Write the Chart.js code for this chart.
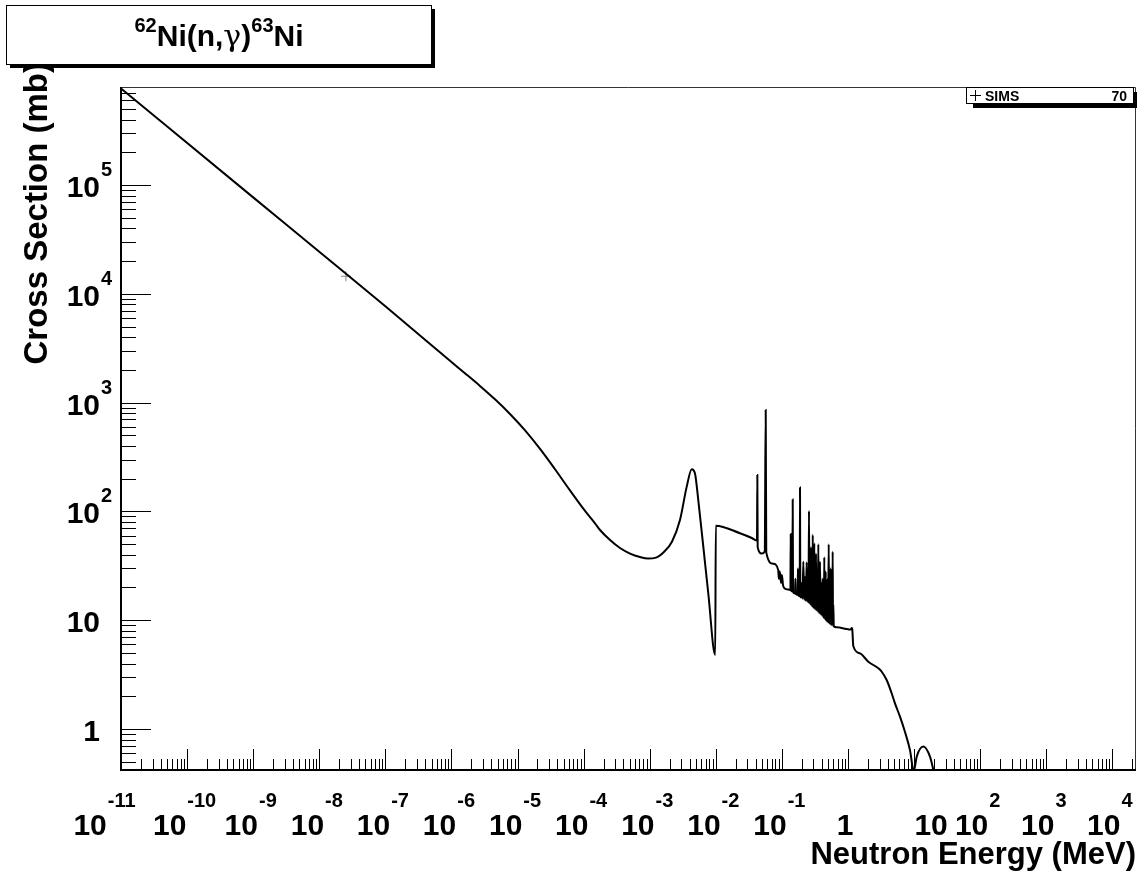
<!DOCTYPE html>
<html>
<head>
<meta charset="utf-8">
<script src="https://cdn.jsdelivr.net/npm/chart.js@4.4.1/dist/chart.umd.min.js"></script>
<style>
  html, body { margin: 0; padding: 0; background: #ffffff; }
  canvas { display: block; }
</style>
</head>
<body>
<canvas id="c" width="1144" height="872"></canvas>
<script>
// 62Ni(n,gamma)63Ni evaluated capture cross section, energies in MeV, cross sections in mb.

// Smooth part: 1/v region and the 4.6 keV s-wave resonance
const lowEnergy = [1e-11, 1e-9, 1e-8, 1e-7, 9.5e-7, 1.60e-6, 2.70e-6, 4.56e-6, 7.69e-6, 1.30e-5,
  2.19e-5, 3.69e-5, 6.22e-5, 1.05e-4, 1.486e-4, 1.77e-4, 2.51e-4, 3.55e-4, 5.04e-4, 7.13e-4,
  9.42e-4, 1.245e-3, 1.64e-3, 2.17e-3, 2.87e-3, 3.63e-3, 4.32e-3, 4.84e-3, 5.43e-3, 6.47e-3,
  7.69e-3, 9.8e-3];
const lowXs = [7.7e5, 7.7e4, 2.44e4, 7.7e3, 2.42e3, 1862, 1424, 1072, 786, 555,
  375, 244, 156, 101, 77.8, 67.5, 54.6, 46.1, 41.0, 38.1,
  36.9, 37.6, 42.4, 52.7, 83.4, 169, 244, 223, 127, 47.4,
  17.7, 4.8];

// Resolved resonances above 10 keV
const resEnergy = [1.0e-2, 2.32e-2, 3.5e-2, 4.2e-2, 4.25e-2, 4.3e-2, 4.94e-2, 5.5e-2, 5.69e-2, 5.8e-2,
  7.41e-2, 8.8e-2, 9.0e-2, 9.3e-2, 9.7e-2, 0.100, 0.104, 0.109, 0.133, 0.1345,
  0.136, 0.1375, 0.144, 0.1457, 0.1475, 0.158, 0.160, 0.162, 0.173, 0.175,
  0.177, 0.186, 0.188, 0.190, 0.1955, 0.200, 0.2055, 0.211, 0.2175, 0.224,
  0.2305, 0.237, 0.2425, 0.248, 0.2525, 0.257, 0.2615, 0.266, 0.271, 0.276,
  0.2805, 0.285, 0.289, 0.293, 0.297, 0.301, 0.305, 0.309, 0.3135, 0.318,
  0.323, 0.328, 0.335, 0.342, 0.349, 0.356, 0.361, 0.366, 0.3715, 0.377,
  0.386, 0.395, 0.4045, 0.414, 0.420, 0.426, 0.432, 0.438, 0.4435, 0.449,
  0.4545, 0.460, 0.4675, 0.475, 0.4825, 0.490, 0.5005, 0.511, 0.5205, 0.530,
  0.5385, 0.547, 0.556, 0.565, 0.576, 0.587, 0.5935, 0.600, 0.61, 0.675];
const resXs = [74, 63, 57, 54, 216, 47, 41, 43, 855, 42,
  33, 29, 24, 28, 22, 26, 21, 19.7, 19, 18.9,
  62, 18.8, 18.4, 129, 18.2, 17.6, 24, 17.5, 17.1, 30,
  17, 16.6, 166, 16.5, 16.2, 22, 15.8, 34.5, 15.4, 25,
  15, 34, 14.8, 28, 14.5, 101, 14.2, 30, 13.9, 47,
  13.6, 26, 13.3, 61, 13.1, 32, 12.9, 51, 12.7, 30,
  12.5, 41, 12.3, 28, 12, 50, 11.7, 26, 11.6, 34.5,
  11.3, 22, 11, 24, 10.7, 20, 10.5, 38, 10.3, 22,
  10.1, 28, 9.9, 20, 9.7, 24, 9.5, 50, 9.3, 22,
  9.2, 30, 9.05, 20, 8.95, 42.6, 8.9, 14, 8.8, 8.6];

// Fast region up to 20 MeV
const fastEnergy = [1.011, 1.10, 1.138, 1.16, 1.203, 1.52, 2.03, 2.88, 3.24, 3.85,
  4.58, 5.14, 6.12, 7.29, 8.67, 9.9, 10.97, 13.8, 17.4, 20];
const fastXs = [8.24, 8.2, 8.5, 8.3, 5.8, 4.96, 4.16, 3.61, 3.36, 2.82,
  2.13, 1.72, 1.30, 0.94, 0.64, 0.41, 0.557, 0.69, 0.557, 0.40];

// Thermal measurement
const simsEnergy = [2.53e-8];
const simsXs = [14500];
const simsLabel = 'SIMS';
const simsCount = '70';

// Axis ranges and tick labels
const xRange = [1e-11, 2.28e4];
const yRange = [0.42, 7.96e5];
const xTickValues = [1e-11, 1e-10, 1e-9, 1e-8, 1e-7, 1e-6, 1e-5, 1e-4, 1e-3, 1e-2, 1e-1, 1, 10, 100, 1000, 10000];
const xTickBase = ['10', '10', '10', '10', '10', '10', '10', '10', '10', '10', '10', '1', '10', '10', '10', '10'];
const xTickExp = ['-11', '-10', '-9', '-8', '-7', '-6', '-5', '-4', '-3', '-2', '-1', '', '', '2', '3', '4'];
const yTickValues = [1, 10, 100, 1000, 10000, 100000];
const yTickBase = ['1', '10', '10', '10', '10', '10'];
const yTickExp = ['', '', '2', '3', '4', '5'];

const xTitle = 'Neutron Energy (MeV)';
const yTitle = 'Cross Section (mb)';

function pairs(e, s) { return e.map((v, i) => ({ x: v, y: s[i] })); }
const curve = pairs(lowEnergy, lowXs).concat(pairs(resEnergy, resXs), pairs(fastEnergy, fastXs));

const FONT = '"Liberation Sans", Arial, Helvetica, sans-serif';

// horizontal label placement tweaks (ROOT-style label layout)
function xLabelShift(i) {
  if (i === 0) return -17;
  if (xTickBase[i] === '10' && xTickExp[i] === '') return 17;
  return -3;
}

function drawPow(ctx, base, exp, x, y, baseSize, expSize, expRise, align) {
  ctx.font = 'bold ' + baseSize + 'px ' + FONT;
  const wb = ctx.measureText(base).width;
  ctx.font = 'bold ' + expSize + 'px ' + FONT;
  const we = exp ? ctx.measureText(exp).width : 0;
  let x0;
  if (align === 'center') x0 = x - (wb + we) / 2;
  else x0 = x - wb; // base right-aligned at x, exponent hangs to the right
  ctx.textAlign = 'left';
  ctx.textBaseline = 'alphabetic';
  ctx.font = 'bold ' + baseSize + 'px ' + FONT;
  ctx.fillText(base, x0, y);
  if (exp) {
    ctx.font = 'bold ' + expSize + 'px ' + FONT;
    ctx.fillText(exp, x0 + wb + 1, y - expRise);
  }
}

const rootStyle = {
  id: 'rootStyle',
  afterDatasetsDraw(chart) {
    const ctx = chart.ctx;
    const a = chart.chartArea;
    const xs = chart.scales.x, ys = chart.scales.y;
    ctx.save();
    ctx.fillStyle = '#000';
    ctx.strokeStyle = '#000';

    // frame
    ctx.lineWidth = 1;
    ctx.strokeStyle = '#333';
    ctx.beginPath();
    ctx.moveTo(a.left, a.top + 0.5); ctx.lineTo(a.right - 0.5, a.top + 0.5); ctx.lineTo(a.right - 0.5, a.bottom);
    ctx.stroke();
    ctx.strokeStyle = '#000';
    ctx.lineWidth = 2;
    ctx.beginPath();
    ctx.moveTo(a.left, a.top); ctx.lineTo(a.left, a.bottom); ctx.lineTo(a.right, a.bottom);
    ctx.stroke();

    // y ticks
    ctx.lineWidth = 1;
    ctx.beginPath();
    for (let e = -1; e <= 5; e++) {
      for (let m = 1; m <= 9; m++) {
        const v = m * Math.pow(10, e);
        if (v < ys.min || v > ys.max) continue;
        const y = Math.round(ys.getPixelForValue(v)) + 0.5;
        const len = m === 1 ? 30 : 15;
        ctx.moveTo(a.left, y); ctx.lineTo(a.left + len, y);
      }
    }
    // x ticks
    for (let e = -11; e <= 4; e++) {
      for (let m = 1; m <= 9; m++) {
        const v = m * Math.pow(10, e);
        if (v < xs.min || v > xs.max) continue;
        const x = Math.round(xs.getPixelForValue(v)) + 0.5;
        const len = m === 1 ? 21 : 11;
        ctx.moveTo(x, a.bottom); ctx.lineTo(x, a.bottom - len);
      }
    }
    ctx.stroke();

    // tick labels
    ctx.fillStyle = '#000';
    xTickValues.forEach((v, i) => {
      drawPow(ctx, xTickBase[i], xTickExp[i], xs.getPixelForValue(v) + xLabelShift(i), 835, 30, 20, 28, 'center');
    });
    yTickValues.forEach((v, i) => {
      drawPow(ctx, yTickBase[i], yTickExp[i], 100, ys.getPixelForValue(v) + 12, 30, 20, 21, 'right');
    });

    // axis titles
    ctx.font = 'bold 31px ' + FONT;
    ctx.textAlign = 'right';
    ctx.textBaseline = 'alphabetic';
    ctx.fillText(xTitle, 1136, 864);
    ctx.save();
    ctx.font = 'bold 33px ' + FONT;
    ctx.translate(47, 62);
    ctx.rotate(-Math.PI / 2);
    ctx.textAlign = 'right';
    ctx.fillText(yTitle, 0, 0);
    ctx.restore();

    // title box with shadow
    ctx.fillStyle = '#000';
    ctx.fillRect(10, 9, 425, 59);
    ctx.fillStyle = '#fff';
    ctx.fillRect(6, 5, 426, 60);
    ctx.strokeStyle = '#000';
    ctx.lineWidth = 1;
    ctx.strokeRect(6.5, 5.5, 425, 59);
    // title text: 62Ni(n,gamma)63Ni
    const parts = [
      { t: '62', f: 'bold 20px ' + FONT, dy: -14 },
      { t: 'Ni(n,', f: 'bold 30px ' + FONT, dy: 0 },
      { t: '\u03b3', f: '30px "DejaVu Serif", serif', dy: 0 },
      { t: ')', f: 'bold 30px ' + FONT, dy: 0 },
      { t: '63', f: 'bold 20px ' + FONT, dy: -14 },
      { t: 'Ni', f: 'bold 30px ' + FONT, dy: 0 }
    ];
    let tw = 0;
    parts.forEach(p => { ctx.font = p.f; p.w = ctx.measureText(p.t).width; tw += p.w; });
    let tx = 219 - tw / 2;
    ctx.fillStyle = '#000';
    ctx.textAlign = 'left';
    parts.forEach(p => { ctx.font = p.f; ctx.fillText(p.t, tx, 46 + p.dy); tx += p.w; });

    // legend box with shadow
    ctx.fillStyle = '#000';
    ctx.fillRect(973, 92, 164, 16);
    ctx.fillStyle = '#fff';
    ctx.fillRect(966, 87, 167, 16);
    ctx.strokeRect(966.5, 87.5, 167, 16);
    ctx.lineWidth = 1;
    ctx.beginPath();
    ctx.moveTo(970, 95.5); ctx.lineTo(981, 95.5);
    ctx.moveTo(975.5, 90); ctx.lineTo(975.5, 101);
    ctx.stroke();
    ctx.fillStyle = '#000';
    ctx.font = 'bold 14px ' + FONT;
    ctx.textAlign = 'left';
    ctx.fillText(simsLabel, 985, 101);
    ctx.textAlign = 'right';
    ctx.fillText(simsCount, 1127, 101);
    ctx.restore();
  }
};

new Chart(document.getElementById('c'), {
  type: 'line',
  data: {
    datasets: [
      {
        label: 'capture',
        data: curve,
        borderColor: '#000',
        borderWidth: 2,
        pointRadius: 0,
        fill: false,
        cubicInterpolationMode: 'monotone'
      },
      {
        label: simsLabel,
        data: pairs(simsEnergy, simsXs),
        showLine: false,
        pointStyle: 'cross',
        pointRadius: 5,
        borderColor: '#888',
        borderWidth: 1
      }
    ]
  },
  options: {
    responsive: false,
    devicePixelRatio: 1,
    animation: false,
    events: [],
    layout: { padding: { left: 121, top: 87, right: 8, bottom: 102 } },
    scales: {
      x: { type: 'logarithmic', display: false, min: xRange[0], max: xRange[1], bounds: 'data' },
      y: { type: 'logarithmic', display: false, min: yRange[0], max: yRange[1], bounds: 'data' }
    },
    plugins: { legend: { display: false }, tooltip: { enabled: false } }
  },
  plugins: [rootStyle]
});
</script>
</body>
</html>
